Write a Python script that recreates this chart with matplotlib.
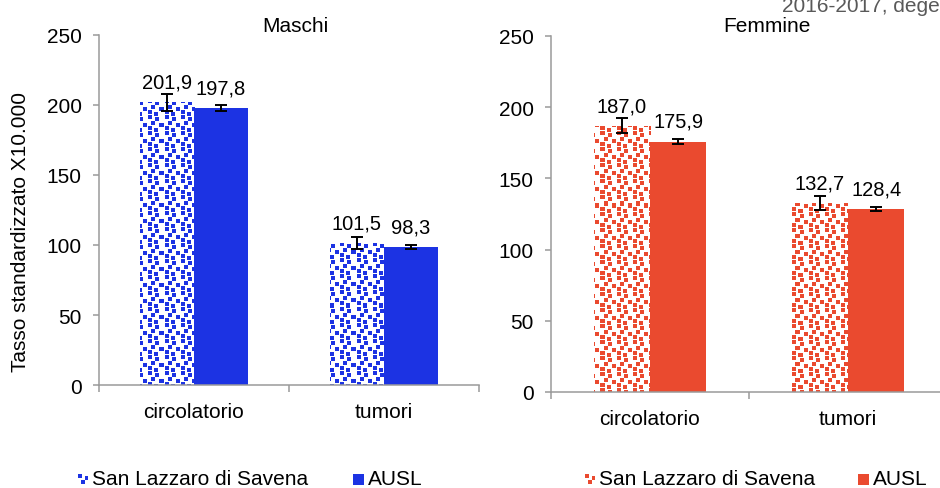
import numpy as np
import matplotlib
matplotlib.use("Agg")
import matplotlib.pyplot as plt
from matplotlib.patches import Rectangle

plt.rcParams['font.family'] = ['Liberation Sans', 'DejaVu Sans']

# --- data -------------------------------------------------------------
categories = ["circolatorio", "tumori"]
series_names = ["San Lazzaro di Savena", "AUSL"]

maschi_sl = [201.9, 101.5]
maschi_sl_err = [6.0, 4.5]
maschi_ausl = [197.8, 98.3]
maschi_ausl_err = [2.0, 1.5]

femmine_sl = [187.0, 132.7]
femmine_sl_err = [5.3, 5.0]
femmine_ausl = [175.9, 128.4]
femmine_ausl_err = [1.9, 1.5]

y_ticks = [0, 50, 100, 150, 200, 250]

BLUE = "#1C33E3"
RED = "#EA4A2F"
AXIS_GRAY = "#9A9A9A"
FS = 15

W, H = 940, 489
fig = plt.figure(figsize=(W / 100, H / 100), dpi=100)


def confetti(h, w, color):
    """White texture sprinkled with small coloured squares (16px tile)."""
    rgb = np.array(matplotlib.colors.to_rgb(color))
    img = np.ones((h, w, 3))
    spots = [(0, 1), (2, 8), (6, 4), (8, 12), (11, 1), (13, 7)]
    for ty in range(0, h, 16):
        for tx in range(0, w, 16):
            for dy, dx in spots:
                y0, x0 = ty + dy, tx + dx
                img[y0:y0 + 4, x0:x0 + 4] = rgb
    return img


def fmt(v):
    return f"{v:.1f}".replace(".", ",")


def panel(rect, sl, sl_err, ausl, ausl_err, color):
    ax = fig.add_axes(rect)
    x = np.arange(len(categories))
    bw = 0.285
    ax.set_xlim(-0.5, len(categories) - 0.5)
    ax.set_ylim(0, 250)

    bars_sl = ax.bar(x - bw / 2, sl, width=bw, color="none", zorder=2)
    ax.bar(x + bw / 2, ausl, width=bw, color=color, zorder=2)

    # textured fill for the first series, clipped to each bar
    pw = int(round(rect[2] * W))
    ph = int(round(rect[3] * H))
    tex = confetti(ph, pw, color)
    for b in bars_sl:
        im = ax.imshow(tex, extent=(-0.5, len(categories) - 0.5, 0, 250),
                       aspect="auto", interpolation="nearest", zorder=1.5)
        im.set_clip_path(b)
    ax.set_xlim(-0.5, len(categories) - 0.5)
    ax.set_ylim(0, 250)

    ekw = dict(fmt="none", ecolor="black", elinewidth=1.4, capsize=4,
               capthick=1.4, zorder=3)
    ax.errorbar(x - bw / 2, sl, yerr=sl_err, **ekw)
    ax.errorbar(x + bw / 2, ausl, yerr=ausl_err, **ekw)

    for xi, v in zip(x - bw / 2, sl):
        ax.annotate(fmt(v), (xi, v), xytext=(0, 10.5), textcoords="offset points",
                    ha="center", va="baseline", fontsize=FS - 0.5)
    for xi, v in zip(x + bw / 2, ausl):
        ax.annotate(fmt(v), (xi, v), xytext=(0, 10.5), textcoords="offset points",
                    ha="center", va="baseline", fontsize=FS - 0.5)

    for s in ("top", "right"):
        ax.spines[s].set_visible(False)
    for s in ("left", "bottom"):
        ax.spines[s].set_color(AXIS_GRAY)
        ax.spines[s].set_linewidth(1.1)

    ax.set_yticks(y_ticks)
    ax.tick_params(axis="y", length=4.5, width=1.1, color=AXIS_GRAY,
                   labelsize=FS, pad=8)
    ax.set_xticks([-0.5, 0.5, 1.5])
    ax.set_xticklabels([])
    ax.tick_params(axis="x", which="major", length=5, width=1.1,
                   color=AXIS_GRAY)
    ax.set_xticks(x, minor=True)
    ax.set_xticklabels(categories, minor=True)
    ax.tick_params(axis="x", which="minor", length=0, labelsize=FS, pad=12)
    ax.set_facecolor("none")
    return ax


axL = panel([99 / W, 1 - 386 / H, 380 / W, 350 / H],
            maschi_sl, maschi_sl_err, maschi_ausl, maschi_ausl_err, BLUE)
axR = panel([551 / W, 1 - 393 / H, 396 / W, 356 / H],
            femmine_sl, femmine_sl_err, femmine_ausl, femmine_ausl_err, RED)

fig.text(295 / W, 1 - 26 / H, "Maschi", ha="center", va="center", fontsize=FS)
fig.text(767 / W, 1 - 26 / H, "Femmine", ha="center", va="center", fontsize=FS)
fig.text(782 / W, 1 - 12 / H, "2016-2017, degenze", ha="left", va="baseline",
         fontsize=FS, color="#595959")
fig.text(21 / W, 1 - 232 / H, "Tasso standardizzato X10.000", rotation=90,
         ha="center", va="center", fontsize=FS)


def legend_row(x_marker1, x_marker2, color):
    yc = 480
    size = 11
    # textured marker
    mk = fig.add_axes([x_marker1 / W, 1 - (yc + size / 2) / H, size / W, size / H])
    mk.imshow(confetti(size, size, color), aspect="auto", interpolation="nearest")
    mk.axis("off")
    fig.text((x_marker1 + size + 4) / W, 1 - yc / H, series_names[0],
             ha="left", va="center", fontsize=FS)
    fig.patches.append(Rectangle((x_marker2 / W, 1 - (yc + size / 2) / H),
                                 size / W, size / H, transform=fig.transFigure,
                                 facecolor=color, edgecolor="none"))
    fig.text((x_marker2 + size + 4) / W, 1 - yc / H, series_names[1],
             ha="left", va="center", fontsize=FS)


legend_row(77, 353, BLUE)
legend_row(584, 858, RED)

fig.savefig("out.png", dpi=100)
